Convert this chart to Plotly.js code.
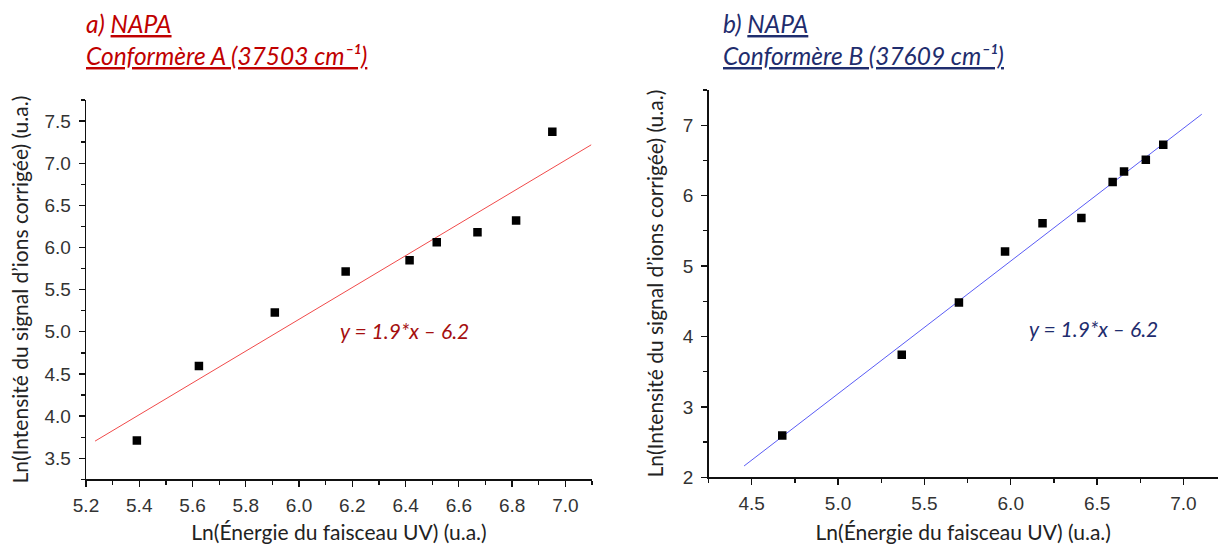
<!DOCTYPE html>
<html>
<head>
<meta charset="utf-8">
<script src="https://cdn.plot.ly/plotly-3.0.1.min.js"></script>
<style>html,body{margin:0;padding:0;background:#fff;}#chart{width:1218px;height:544px;}</style>
</head>
<body>
<div id="chart"></div>
<script>
// Panel a) Conformère A
const xA = [5.391, 5.624, 5.909, 6.175, 6.415, 6.517, 6.670, 6.815, 6.951];
const yA = [3.711, 4.593, 5.230, 5.715, 5.850, 6.061, 6.180, 6.319, 7.373];
const fitXA = [5.234, 7.097];
const fitYA = [3.703, 7.218];
// Panel b) Conformère B
const xB = [4.677, 5.369, 5.700, 5.967, 6.184, 6.409, 6.590, 6.656, 6.782, 6.883];
const yB = [2.592, 3.742, 4.481, 5.205, 5.608, 5.684, 6.195, 6.342, 6.508, 6.721];
const fitXB = [4.456, 7.106];
const fitYB = [2.161, 7.156];

const titleA1 = "a) <u>NAPA</u>";
const titleA2 = "<u>Conformère A (37503 cm⁻¹)</u>";
const titleB1 = "b) <u>NAPA</u>";
const titleB2 = "<u>Conformère B (37609 cm⁻¹)</u>";
const eqA = "y = 1.9*x – 6.2";
const eqB = "y = 1.9*x – 6.2";
const xTitle = "Ln(Énergie du faisceau UV) (u.a.)";
const yTitle = "Ln(Intensité du signal d’ions corrigée) (u.a.)";

const W = 1218, H = 544;
const RED = "#c00000", NAVY = "#1f2d6e";

const traces = [
  {x: fitXA, y: fitYA, mode: "lines", line: {color: "#f04a4a", width: 1}, xaxis: "x", yaxis: "y", hoverinfo: "skip"},
  {x: xA, y: yA, mode: "markers", marker: {symbol: "square", size: 8.5, color: "#000"}, xaxis: "x", yaxis: "y"},
  {x: fitXB, y: fitYB, mode: "lines", line: {color: "#5a5cf5", width: 1}, xaxis: "x2", yaxis: "y2", hoverinfo: "skip"},
  {x: xB, y: yB, mode: "markers", marker: {symbol: "square", size: 8.5, color: "#000"}, xaxis: "x2", yaxis: "y2"}
];

const tickFont = {family: "Liberation Sans, Arial, sans-serif", size: 19, color: "#333"};
const titleFont = {family: "Lato, sans-serif", size: 21, color: "#222"};
function ax(extra) {
  return Object.assign({
    showline: true, linecolor: "#111", linewidth: 1.3, mirror: false,
    showgrid: false, zeroline: false,
    ticks: "outside", ticklen: 6, tickwidth: 1.3, tickcolor: "#111",
    tickfont: tickFont, automargin: false, fixedrange: true
  }, extra);
}

const layout = {
  width: W, height: H,
  margin: {l: 0, r: 0, t: 0, b: 0},
  paper_bgcolor: "#fff", plot_bgcolor: "#fff",
  showlegend: false,
  xaxis: ax({domain: [86/W, 592/W], range: [5.2, 7.1], dtick: 0.2, tick0: 5.2, tickformat: ".1f",
    ticklabelstandoff: 3,
    minor: {ticks: "outside", ticklen: 4, dtick: 0.1, tickcolor: "#111", tickwidth: 1.3},
    title: {text: xTitle, font: titleFont, standoff: 13}, anchor: "y"}),
  yaxis: ax({domain: [(H-479.3)/H, (H-100)/H], range: [3.25, 7.75], dtick: 0.5, tick0: 3.5, tickformat: ".1f",
    ticklabelstandoff: 4,
    minor: {ticks: "outside", ticklen: 4, dtick: 0.25, tickcolor: "#111", tickwidth: 1.3},
    title: {text: yTitle, font: titleFont, standoff: 10}, anchor: "x"}),
  xaxis2: ax({domain: [708.5/W, 1], range: [4.25, 7.2], dtick: 0.5, tick0: 4.5, tickformat: ".1f",
    ticklabelstandoff: 3,
    minor: {ticks: "outside", ticklen: 4, dtick: 0.25, tickcolor: "#111", tickwidth: 1.3},
    title: {text: xTitle, font: titleFont, standoff: 13}, anchor: "y2"}),
  yaxis2: ax({domain: [(H-477.3)/H, (H-90)/H], range: [2, 7.5], dtick: 1, tick0: 2,
    ticklabelstandoff: 4,
    minor: {ticks: "outside", ticklen: 4, dtick: 0.5, tickcolor: "#111", tickwidth: 1.3},
    title: {text: yTitle, font: titleFont, standoff: 13}, anchor: "x2"}),
  annotations: [
    {text: titleA1, xref: "paper", yref: "paper", x: 84/W, y: 1 - 7/H, xanchor: "left", yanchor: "top", showarrow: false,
      font: {family: "Lato, sans-serif", size: 24.5, color: RED, style: "italic"}},
    {text: titleA2, xref: "paper", yref: "paper", x: 84/W, y: 1 - 39/H, xanchor: "left", yanchor: "top", showarrow: false,
      font: {family: "Lato, sans-serif", size: 24.5, color: RED, style: "italic"}},
    {text: titleB1, xref: "paper", yref: "paper", x: 721/W, y: 1 - 7/H, xanchor: "left", yanchor: "top", showarrow: false,
      font: {family: "Lato, sans-serif", size: 24.5, color: NAVY, style: "italic"}},
    {text: titleB2, xref: "paper", yref: "paper", x: 721/W, y: 1 - 39/H, xanchor: "left", yanchor: "top", showarrow: false,
      font: {family: "Lato, sans-serif", size: 24.5, color: NAVY, style: "italic"}},
    {text: eqA, xref: "paper", yref: "paper", x: 404/W, y: 1 - 330/H, xanchor: "center", yanchor: "middle", showarrow: false,
      font: {family: "Lato, sans-serif", size: 21, color: "#a50f0f", style: "italic"}},
    {text: eqB, xref: "paper", yref: "paper", x: 1093/W, y: 1 - 328/H, xanchor: "center", yanchor: "middle", showarrow: false,
      font: {family: "Lato, sans-serif", size: 21, color: NAVY, style: "italic"}}
  ]
};

Plotly.newPlot("chart", traces, layout, {displayModeBar: false, staticPlot: true});
</script>
</body>
</html>
